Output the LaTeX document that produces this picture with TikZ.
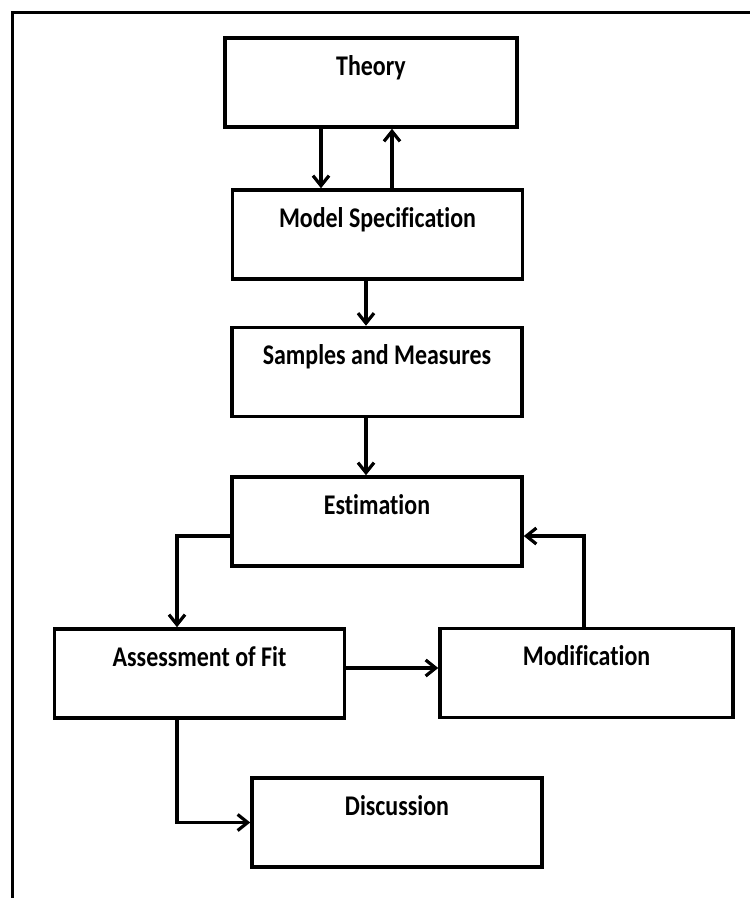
\documentclass[tikz,border=0pt]{standalone}
\usepackage{fontspec}
\setmainfont{Carlito}[FakeStretch=0.84,Ligatures={NoCommon,NoRare}]
\usetikzlibrary{arrows.meta,calc}
\begin{document}
\begin{tikzpicture}[x=1pt,y=-1pt,
  box/.style={draw=black,line width=3.6pt,fill=white,rectangle,minimum width=290pt,minimum height=89pt,inner sep=0pt},
  lbl/.style={anchor=base,inner sep=0pt,font=\fontsize{28.5}{30}\selectfont\bfseries},
  arr/.style={line width=3.2pt,-{Straight Barb[length=10pt,width=16pt,line width=3.2pt]}}]
\useasboundingbox (0,0) rectangle (750,898);
\draw[line width=3.6pt] (12.5,910) -- (12.5,12.5) -- (760,12.5);
% boxes
\node[box,minimum width=292pt] (theory) at (371,82.5) {};
\node[box] (model) at (377.5,234.5) {};
\node[box] (samples) at (377,372) {};
\node[box] (estim) at (377,521.5) {};
\node[box] (assess) at (199.5,673.5) {};
\node[box,minimum width=293pt] (modif) at (586.5,673) {};
\node[box] (disc) at (397,822.5) {};
% labels
\node[lbl] (theoryT) at ($(theory.north)+(0,39)$) {Theory};
\node[lbl] (modelT) at ($(model.north)+(0,39)$) {Model Specification};
\node[lbl] (samplesT) at ($(samples.north)+(0,39)$) {Samples and Measures};
\node[lbl] (estimT) at ($(estim.north)+(0,39)$) {Estimation};
\node[lbl] (assessT) at ($(assess.north)+(0,39)$) {Assessment of Fit};
\node[lbl] (modifT) at ($(modif.north)+(0,39)$) {Modification};
\node[lbl] (discT) at ($(disc.north)+(0,39)$) {Discussion};
% connectors
\draw[arr] ([xshift=-50pt]theory.south) -- ([xshift=-50pt]theory.south |- model.north);
\draw[arr] ([xshift=14.5pt]model.north) -- ([xshift=14.5pt]model.north |- theory.south);
\draw[arr] ([xshift=-11.5pt]model.south) -- ([xshift=-11.5pt]model.south |- samples.north);
\draw[arr] ([xshift=-11pt]samples.south) -- ([xshift=-11pt]samples.south |- estim.north);
\draw[arr] ([yshift=-14.5pt]estim.west) -| ([xshift=-22.5pt]assess.north);
\draw[arr] ([yshift=5.5pt]assess.east) -- ([yshift=5.5pt]assess.east -| modif.west);
\draw[arr] ([xshift=-2.5pt]modif.north) |- ([yshift=-14.5pt]estim.east);
\draw[arr] ([xshift=-22.5pt]assess.south) |- (disc.west);
\end{tikzpicture}
\end{document}
